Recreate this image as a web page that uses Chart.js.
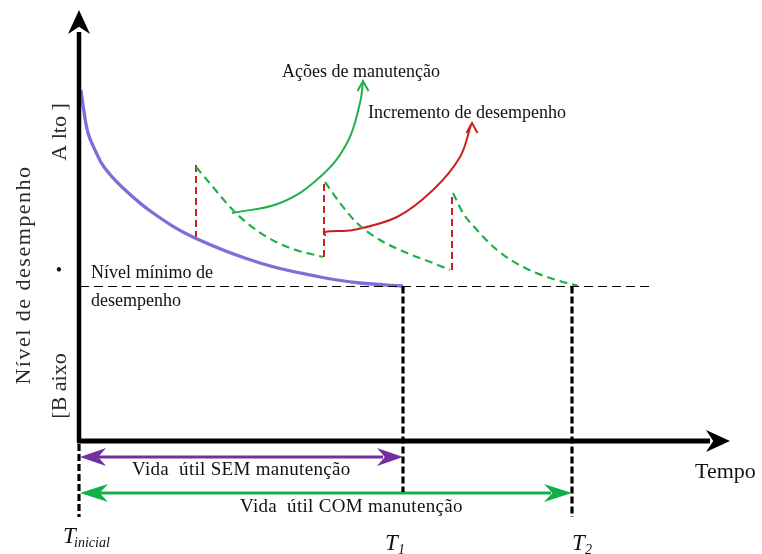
<!DOCTYPE html>
<html><head><meta charset="utf-8">
<script src="https://cdn.jsdelivr.net/npm/chart.js@4.4.1/dist/chart.umd.min.js"></script>
<style>html,body{margin:0;padding:0;background:#fff}canvas{display:block}</style>
</head><body>
<canvas id="c" width="762" height="554"></canvas>
<script>
// Time axis: T_inicial = 0. Performance axis: time axis line = 0.
const T_INICIAL = 0, T1 = 325, T2 = 497;
const NIVEL_MINIMO = 154.5;
const TEMPO_FIM = 652, NIVEL_TOPO = 431;

// Degradation without maintenance
const semManutX = [3, 5, 10, 17, 26, 45, 75, 117, 182, 242, 282, 325];
const semManutY = [351, 336, 308, 291, 274, 253, 228, 203, 178, 164, 158, 155];

// Degradation with maintenance (three cycles)
const ciclo1X = [118, 135, 152, 169, 189, 212, 245];
const ciclo1Y = [274, 254, 234, 218, 204, 193, 184];
const ciclo2X = [247, 262, 279, 302, 329, 355, 372];
const ciclo2Y = [259, 238, 218, 201, 188, 178, 171];
const ciclo3X = [375, 385, 399, 419, 445, 472, 500];
const ciclo3Y = [248, 228, 211, 191, 174, 163, 155];

// Performance increments (maintenance actions): time, level before, level after
const acaoT = [118, 246, 374];
const acaoAntes = [203, 184, 171];
const acaoDepois = [276, 259, 248];

// Callout curves
const calloutVerdeX = [154, 202, 242, 269, 282, 285];
const calloutVerdeY = [228, 238, 264, 298, 338, 359];
const calloutVermX = [247, 247, 275, 319, 355, 382, 393];
const calloutVermY = [205, 209, 211, 224, 251, 284, 316];

// Life span arrows (level position below the time axis)
const vidaSemY = -16, vidaComY = -52;

const pts = (xs, ys) => xs.map((x, i) => ({x, y: ys[i]}));
const seg = (x1, y1, x2, y2) => [{x: x1, y: y1}, {x: x2, y: y2}];

const BLUE = '#7a70d8', GREEN = '#22b04c', RED = '#cc1f1f', PURPLE = '#7030a0', BGREEN = '#12b048';

const lineDs = (data, color, width, dash, extra) => Object.assign({
  data, borderColor: color, borderWidth: width, borderDash: dash || [],
  pointRadius: 0, showLine: true, fill: false, tension: 0, clip: false,
  borderCapStyle: 'butt'
}, extra || {});

const datasets = [];
// axes
datasets.push(lineDs(seg(T_INICIAL + 1, -1, T_INICIAL + 1, NIVEL_TOPO - 22), '#000', 4.5));
datasets.push(lineDs(seg(T_INICIAL - 1, 0, TEMPO_FIM - 20, 0), '#000', 5));
// minimum level
datasets.push(lineDs(seg(T_INICIAL + 2, NIVEL_MINIMO, 575, NIVEL_MINIMO), '#000', 1, [9, 5]));
// vertical dashed markers
datasets.push(lineDs(seg(T1, NIVEL_MINIMO, T1, -51), '#000', 3.2, [7, 3]));
datasets.push(lineDs(seg(T2 - 3, NIVEL_MINIMO, T2 - 3, -76), '#000', 3.2, [7, 3]));
datasets.push(lineDs(seg(T_INICIAL + 1, -3, T_INICIAL + 1, -76), '#000', 3.2, [7, 3]));
// performance without maintenance
datasets.push(lineDs(pts(semManutX, semManutY), BLUE, 3.3, [], {tension: 0.4}));
// maintenance cycles
[[ciclo1X, ciclo1Y], [ciclo2X, ciclo2Y], [ciclo3X, ciclo3Y]].forEach(([xs, ys]) =>
  datasets.push(lineDs(pts(xs, ys), GREEN, 2.2, [8, 5], {cubicInterpolationMode: 'monotone'})));
acaoT.forEach((t, i) => datasets.push(lineDs(seg(t, acaoAntes[i], t, acaoDepois[i]), RED, 2, [7, 4])));
// callouts
datasets.push(lineDs(pts(calloutVerdeX, calloutVerdeY), GREEN, 2, [], {tension: 0.4}));
datasets.push(lineDs(pts(calloutVermX, calloutVermY), RED, 2, [], {tension: 0.35}));
// life span arrows
datasets.push(lineDs(seg(T_INICIAL + 20, vidaSemY, T1 - 20, vidaSemY), PURPLE, 3));
datasets.push(lineDs(seg(T_INICIAL + 20, vidaComY, T2 - 24, vidaComY), BGREEN, 3));

const deco = {
  id: 'deco',
  afterDatasetsDraw(chart) {
    const ctx = chart.ctx, xs = chart.scales.x, ys = chart.scales.y;
    const px = v => xs.getPixelForValue(v), py = v => ys.getPixelForValue(v);
    ctx.save();
    function head(x, y, ang, len, hw, color) {
      ctx.save(); ctx.translate(x, y); ctx.rotate(ang);
      ctx.fillStyle = color; ctx.beginPath();
      ctx.moveTo(0, 0); ctx.lineTo(-len, -hw); ctx.lineTo(-len * 0.7, 0); ctx.lineTo(-len, hw);
      ctx.closePath(); ctx.fill(); ctx.restore();
    }
    function chevron(x, y, color) {
      ctx.strokeStyle = color; ctx.lineWidth = 2; ctx.beginPath();
      ctx.moveTo(x - 5.5, y + 10); ctx.lineTo(x, y); ctx.lineTo(x + 5.5, y + 10); ctx.stroke();
    }
    head(px(T_INICIAL + 1), py(NIVEL_TOPO), -Math.PI / 2, 24, 11, '#000');
    head(px(TEMPO_FIM), py(0), 0, 24, 11, '#000');
    head(px(T_INICIAL + 2), py(vidaSemY), Math.PI, 26, 9, PURPLE);
    head(px(T1), py(vidaSemY), 0, 26, 9, PURPLE);
    head(px(T_INICIAL + 2), py(vidaComY), Math.PI, 28, 9, BGREEN);
    head(px(T2 - 3), py(vidaComY), 0, 28, 9, BGREEN);
    chevron(px(calloutVerdeX[calloutVerdeX.length - 1]), py(calloutVerdeY[calloutVerdeY.length - 1]) - 1, GREEN);
    chevron(px(calloutVermX[calloutVermX.length - 1]) + 1, py(calloutVermY[calloutVermY.length - 1]) - 2, RED);

    ctx.fillStyle = '#111';
    const serif = '"Liberation Serif", "DejaVu Serif", serif';
    function txt(s, x, y, size, align, style, spacing) {
      ctx.font = (style || '') + ' ' + size + 'px ' + serif;
      ctx.textAlign = align || 'left'; ctx.textBaseline = 'alphabetic';
      ctx.letterSpacing = spacing || '0px';
      ctx.fillText(s, x, y);
    }
    txt('Ações de manutenção', px(283), py(364), 18, 'center');
    txt('Incremento de desempenho', px(290), py(323), 18, 'left');
    txt('Nível mínimo de', px(13), py(163), 18);
    txt('desempenho', px(13), py(135), 18);
    txt('•', px(-19), py(165), 18, 'center');
    txt('Vida  útil SEM manutenção', px(54), py(-34), 19, 'left', '', '0.3px');
    txt('Vida  útil COM manutenção', px(162), py(-71), 19, 'left', '', '0.3px');
    txt('Tempo', px(617), py(-37), 22);
    txt('T', px(-15), py(-102), 23, 'left', 'italic');
    txt('inicial', px(-4), py(-106), 14, 'left', 'italic');
    txt('T', px(307), py(-109), 23, 'left', 'italic');
    txt('1', px(320), py(-113), 14, 'left', 'italic');
    txt('T', px(494), py(-109), 23, 'left', 'italic');
    txt('2', px(507), py(-113), 14, 'left', 'italic');
    function rot(s, x, y, size, spacing) {
      ctx.save(); ctx.translate(x, y); ctx.rotate(-Math.PI / 2);
      ctx.font = size + 'px ' + serif; ctx.textAlign = 'center'; ctx.textBaseline = 'middle';
      ctx.letterSpacing = spacing || '0px';
      ctx.fillText(s, 0, 0); ctx.restore();
    }
    ctx.fillStyle = '#2a2a2a';
    rot('Nível de desempenho', px(-54), py(166), 22, '1.5px');
    rot('A lto ]', px(-18), py(309), 22);
    rot('[B aixo', px(-18), py(55), 22);
    ctx.restore();
  }
};

new Chart(document.getElementById('c'), {
  type: 'scatter',
  data: {datasets},
  options: {
    responsive: false, animation: false,
    layout: {padding: 0},
    plugins: {legend: {display: false}, tooltip: {enabled: false}},
    scales: {
      x: {type: 'linear', min: -78, max: 684, display: false},
      y: {type: 'linear', min: -113, max: 441, display: false}
    }
  },
  plugins: [deco]
});
</script>
</body></html>
